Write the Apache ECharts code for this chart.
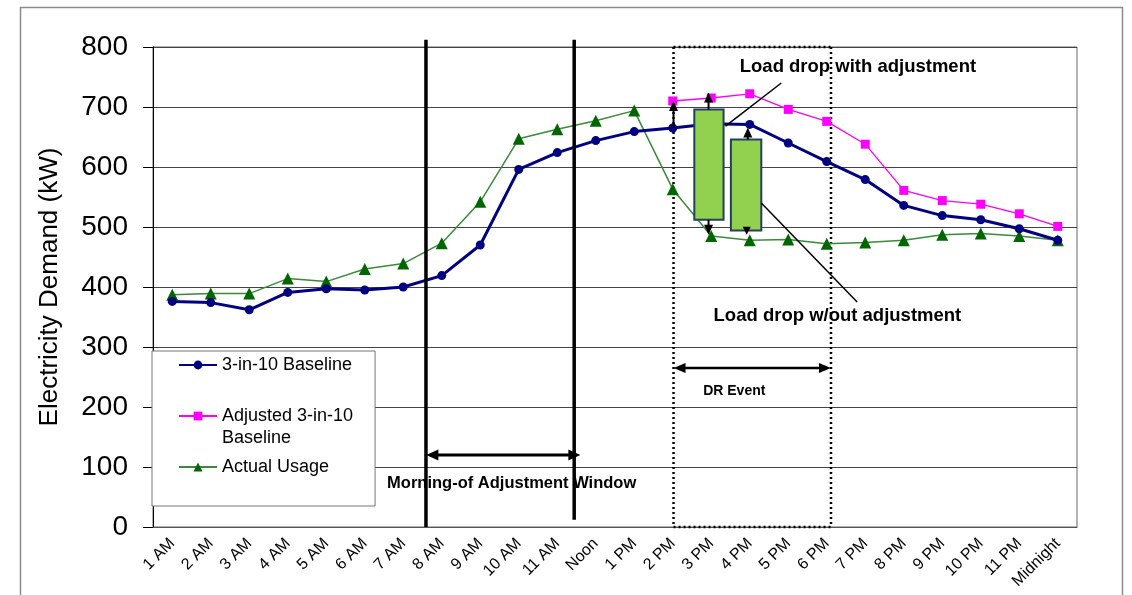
<!DOCTYPE html>
<html>
<head>
<meta charset="utf-8">
<script src="https://cdn.jsdelivr.net/npm/echarts@6/dist/echarts.min.js"></script>
<style>html,body{margin:0;padding:0;background:#fff;}#c{width:1132px;height:595px;}</style>
</head>
<body>
<div id="c"></div>
<script>
// ---- data ----
const categories = ['1 AM','2 AM','3 AM','4 AM','5 AM','6 AM','7 AM','8 AM','9 AM','10 AM','11 AM','Noon',
  '1 PM','2 PM','3 PM','4 PM','5 PM','6 PM','7 PM','8 PM','9 PM','10 PM','11 PM','Midnight'];
const baseline = [376, 374, 362, 391, 397, 395, 400, 419, 470, 596, 624, 644, 659, 665, 672, 671, 640, 609, 579, 536, 519, 512, 497, 478];
const adjusted = [null, null, null, null, null, null, null, null, null, null, null, null, null, 710, 715, 722, 696, 676, 638, 561, 544, 538, 522, 501];
const actual = [387, 389, 389, 414, 409, 430, 439, 473, 542, 647, 663, 677, 694, 563, 485, 478, 479, 472, 474, 478, 487, 489, 485, 478];
const yTicks = { min: 0, max: 800, interval: 100 };
const seriesNames = ['3-in-10 Baseline', 'Adjusted 3-in-10 Baseline', 'Actual Usage'];

// ---- annotations (x in category units from the left edge, y in kW) ----
const FONT = '"Liberation Sans", Arial, sans-serif';
const annoBelow = [
  { k: 'line', p: [[13.52, 800], [13.52, 0]], w: 2.5, dash: [2, 3] },
  { k: 'line', p: [[17.61, 800], [17.61, 0]], w: 2.5, dash: [2, 3] },
  { k: 'line', p: [[13.52, 800], [17.61, 800]], w: 2.5, dash: [2, 3] },
  { k: 'line', p: [[13.52, 0], [17.61, 0]], w: 2.5, dash: [2, 3] }
];
const annoAbove = [
  { k: 'line', p: [[7.09, 812], [7.09, 0]], w: 3.5 },
  { k: 'line', p: [[10.94, 812], [10.94, 12]], w: 3.5 },
  { k: 'darrow', p: [[7.1, 120], [11.1, 120]], w: 3, L: 12, H: 5.5 },
  { k: 'text', at: [6.08, 73], text: 'Morning-of Adjustment Window', font: 'bold 16.5px ' + FONT },
  { k: 'darrow', p: [[13.52, 265], [17.61, 265]], w: 2.5, L: 12, H: 5 },
  { k: 'text', at: [14.29, 227], text: 'DR Event', font: 'bold 14px ' + FONT },
  { k: 'rect', p: [[14.06, 696], [14.82, 512]] },
  { k: 'rect', p: [[15.01, 646], [15.80, 494]] },
  { k: 'arrow', p: [[13.52, 665], [13.52, 710]], w: 2, L: 10, H: 4.5 },
  { k: 'arrow', p: [[14.43, 696], [14.43, 724]], w: 2, L: 10, H: 4.5 },
  { k: 'arrow', p: [[14.43, 512], [14.43, 487]], w: 2, L: 10, H: 4.5 },
  { k: 'arrow', p: [[15.45, 646], [15.45, 666]], w: 2, L: 10, H: 4.5 },
  { k: 'arrow', p: [[15.42, 494], [15.42, 487]], w: 2, L: 8, H: 4 },
  { k: 'line', p: [[16.32, 740], [14.87, 668]], w: 1.5 },
  { k: 'line', p: [[15.80, 540], [18.29, 375]], w: 1.5 },
  { k: 'text', at: [15.24, 766], text: 'Load drop with adjustment', font: 'bold 18.5px ' + FONT },
  { k: 'text', at: [14.56, 352], text: 'Load drop w/out adjustment', font: 'bold 18.5px ' + FONT }
];

function head(tip, from, L, H) {
  const dx = tip[0] - from[0], dy = tip[1] - from[1];
  const len = Math.sqrt(dx * dx + dy * dy) || 1;
  const ux = dx / len, uy = dy / len, nx = -uy, ny = ux;
  const bx = tip[0] - ux * L, by = tip[1] - uy * L;
  return { type: 'polygon', shape: { points: [tip, [bx + nx * H, by + ny * H], [bx - nx * H, by - ny * H]] }, style: { fill: '#000' } };
}
function shorten(a, b, d) {
  const dx = b[0] - a[0], dy = b[1] - a[1];
  const len = Math.sqrt(dx * dx + dy * dy) || 1;
  return [b[0] - dx / len * d, b[1] - dy / len * d];
}
function makeRender(items) {
  return function (params, api) {
    const children = [];
    items.forEach(it => {
      if (it.k === 'line') {
        const a = api.coord(it.p[0]), b = api.coord(it.p[1]);
        children.push({ type: 'line', shape: { x1: a[0], y1: a[1], x2: b[0], y2: b[1] },
          style: { stroke: '#000', lineWidth: it.w, lineDash: it.dash || null } });
      } else if (it.k === 'rect') {
        const a = api.coord(it.p[0]), b = api.coord(it.p[1]);
        children.push({ type: 'rect', shape: { x: Math.min(a[0], b[0]), y: Math.min(a[1], b[1]), width: Math.abs(b[0] - a[0]), height: Math.abs(b[1] - a[1]) },
          style: { fill: '#92D050', stroke: '#243F60', lineWidth: 2 } });
      } else if (it.k === 'arrow' || it.k === 'darrow') {
        const a = api.coord(it.p[0]), b = api.coord(it.p[1]);
        const b2 = shorten(a, b, it.L * 0.7);
        const a2 = it.k === 'darrow' ? shorten(b, a, it.L * 0.7) : a;
        children.push({ type: 'line', shape: { x1: a2[0], y1: a2[1], x2: b2[0], y2: b2[1] }, style: { stroke: '#000', lineWidth: it.w } });
        children.push(head(b, a, it.L, it.H));
        if (it.k === 'darrow') children.push(head(a, b, it.L, it.H));
      } else if (it.k === 'text') {
        const a = api.coord(it.at);
        children.push({ type: 'text', style: { text: it.text, x: a[0], y: a[1], font: it.font, fill: '#000', align: 'left', verticalAlign: 'middle' } });
      }
    });
    return { type: 'group', children };
  };
}

const chart = echarts.init(document.getElementById('c'), null, { renderer: 'canvas' });
chart.setOption({
  animation: false,
  backgroundColor: '#fff',
  textStyle: { fontFamily: FONT },
  graphic: [{ type: 'rect', left: 18, top: 5, shape: { width: 1102, height: 620 }, style: { fill: null, stroke: '#8a8a8a', lineWidth: 1.5 }, silent: true, z: -10 }],
  grid: { left: 153, right: 55, top: 47, bottom: 68, show: true, borderColor: '#666', borderWidth: 1, backgroundColor: 'transparent' },
  legend: {
    orient: 'vertical', left: 152, top: 351,
    padding: [3, 22, 28, 26],
    itemWidth: 38, itemHeight: 11, itemGap: 7,
    backgroundColor: '#fff', borderColor: '#777', borderWidth: 1,
    textStyle: { fontSize: 18, lineHeight: 22, color: '#000', fontFamily: FONT },
    data: [ { name: seriesNames[0] }, { name: seriesNames[1] }, { name: seriesNames[2] } ],
    formatter: n => n === seriesNames[1] ? '\nAdjusted 3-in-10\nBaseline' : n
  },
  xAxis: [
    { type: 'category', data: categories, boundaryGap: true,
      axisLine: { lineStyle: { color: '#555', width: 1 } },
      axisTick: { length: 6, lineStyle: { color: '#555' } },
      axisLabel: { rotate: 45, interval: 0, fontSize: 16, color: '#000', margin: 14, fontFamily: FONT },
      splitLine: { show: false } },
    { type: 'value', min: 0, max: 24, show: false, splitLine: { show: false } }
  ],
  yAxis: {
    type: 'value', min: yTicks.min, max: yTicks.max, interval: yTicks.interval,
    name: 'Electricity Demand (kW)', nameLocation: 'middle', nameRotate: 90, nameGap: 90,
    nameTextStyle: { fontSize: 26, color: '#000', fontFamily: FONT },
    axisLine: { show: true, lineStyle: { color: '#000', width: 1 } },
    axisTick: { show: true, length: 10, lineStyle: { color: '#000' } },
    axisLabel: { fontSize: 28, color: '#000', margin: 25, fontFamily: FONT },
    splitLine: { lineStyle: { color: '#444', width: 1 } }
  },
  series: [
    { type: 'custom', xAxisIndex: 1, yAxisIndex: 0, z: 1, silent: true, clip: false, data: [[0, 0]], renderItem: makeRender(annoBelow) },
    { name: seriesNames[2], type: 'line', data: actual, symbol: 'triangle', symbolSize: 12, z: 2,
      lineStyle: { color: '#3a8a3a', width: 1.5 }, itemStyle: { color: '#006600' } },
    { name: seriesNames[0], type: 'line', data: baseline, symbol: 'circle', symbolSize: 9, z: 2,
      lineStyle: { color: '#000080', width: 3 }, itemStyle: { color: '#000080' } },
    { name: seriesNames[1], type: 'line', data: adjusted, symbol: 'rect', symbolSize: 9, z: 2,
      lineStyle: { color: '#ff00ff', width: 1.3 }, itemStyle: { color: '#ff00ff' } },
    { type: 'custom', xAxisIndex: 1, yAxisIndex: 0, z: 3, silent: true, clip: false, data: [[0, 0]], renderItem: makeRender(annoAbove) }
  ]
});
</script>
</body>
</html>
